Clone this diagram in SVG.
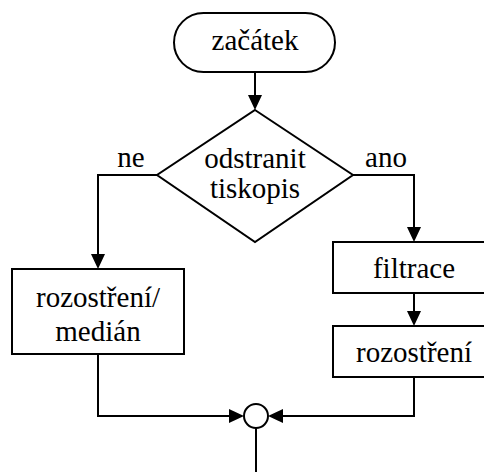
<svg xmlns="http://www.w3.org/2000/svg" width="484" height="472" viewBox="0 0 484 472">
<defs>
<style>
.s{fill:#fff;stroke:#000;stroke-width:2}
.l{fill:none;stroke:#000;stroke-width:2}
.h{fill:#000;stroke:none}
.t{fill:#000;text-anchor:middle}
</style>
</defs>
<rect width="484" height="472" fill="#fff"/>
<g id="connectors">
<path class="l" d="M255,72 V96"/>
<polygon class="h" points="248,95 262,95 255,110"/>
<path class="l" d="M157,175 H98 V255"/>
<polygon class="h" points="91,254 105,254 98,269"/>
<path class="l" d="M353,175 H414 V228"/>
<polygon class="h" points="407,227 421,227 414,242"/>
<path class="l" d="M414,293 V312"/>
<polygon class="h" points="407,311 421,311 414,326"/>
<path class="l" d="M98,354 V416 H230"/>
<polygon class="h" points="229,409 229,423 244,416"/>
<path class="l" d="M414,377 V416 H282"/>
<polygon class="h" points="283,409 283,423 268,416"/>
<path class="l" d="M256,428 V472"/>
<text class="t" x="131" y="167" font-family="Liberation Serif" font-size="29">ne</text>
<text class="t" x="386" y="167" font-family="Liberation Serif" font-size="29">ano</text>
</g>
<g id="start">
<rect class="s" x="174" y="13" width="161" height="59" rx="29.5"/>
<text class="t" x="255" y="50" font-family="Liberation Serif" font-size="29">začátek</text>
</g>
<g id="decision">
<polygon class="s" points="255,110 353,175 255,242 157,175"/>
<text class="t" x="255" y="168" font-family="Liberation Serif" font-size="29">odstranit</text>
<text class="t" x="255" y="198" font-family="Liberation Serif" font-size="29">tiskopis</text>
</g>
<g id="median">
<rect class="s" x="12" y="269" width="172" height="85"/>
<text class="t" x="98" y="307" font-family="Liberation Serif" font-size="29">rozostření/</text>
<text class="t" x="98" y="341" font-family="Liberation Serif" font-size="29">medián</text>
</g>
<g id="filtrace">
<rect class="s" x="333" y="242" width="162" height="51"/>
<text class="t" x="414" y="278" font-family="Liberation Serif" font-size="29">filtrace</text>
</g>
<g id="rozostreni">
<rect class="s" x="333" y="326" width="162" height="51"/>
<text class="t" x="414" y="362" font-family="Liberation Serif" font-size="29">rozostření</text>
</g>
<g id="join">
<circle class="s" cx="256" cy="416" r="12"/>
</g>
</svg>
